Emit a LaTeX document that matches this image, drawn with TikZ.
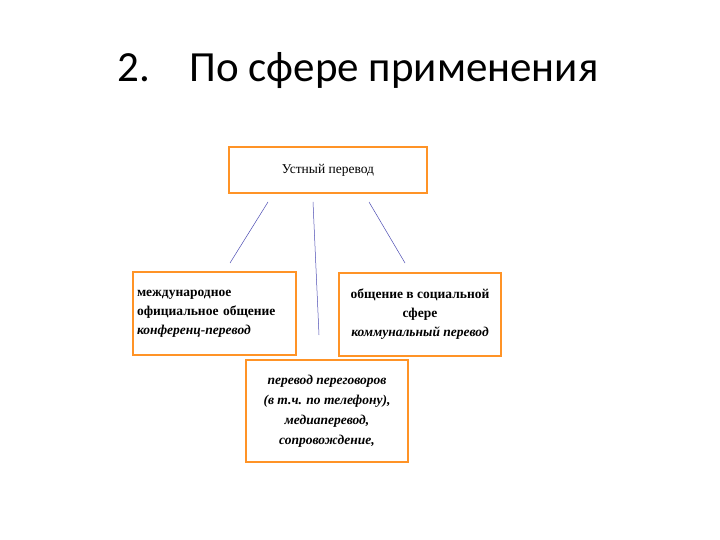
\documentclass[tikz,border=0pt]{standalone}
\usepackage{fontspec}
\setmainfont{Liberation Serif}
\newfontfamily\titlefont{Carlito}
\begin{document}
\begin{tikzpicture}[x=1pt,y=-1pt,
  box/.style={draw=orange!85!white,line width=2.2pt,fill=white,inner sep=0pt},
  conn/.style={draw=blue!40!gray,line width=0.5pt}]
\useasboundingbox (0,0) rectangle (720,540);
\node[anchor=base west,font=\titlefont\fontsize{43}{48}\selectfont] (t1) at (114,82) {2.};
\node[anchor=base west,font=\titlefont\fontsize{43}{48}\selectfont] (t2) at (186,82) {По сфере применения};
\node[box,minimum width=198pt,minimum height=46pt,font=\fontsize{13.5}{16}\selectfont] (top) at (328,170) {Устный перевод};
\node[box,minimum width=163pt,minimum height=83pt,align=left,text width=155pt,font=\fontsize{13.5}{19}\selectfont\bfseries] (left) at (214.5,313.5)
 {международное\\официальное общение\\\textit{конференц-перевод}};
\node[box,minimum width=162pt,minimum height=83pt,align=center,font=\fontsize{13.5}{19}\selectfont\bfseries] (right) at (420,314.5)
 {общение в социальной\\сфере\\\textit{коммунальный перевод}};
\node[box,minimum width=162pt,minimum height=102pt,align=center,font=\fontsize{13.5}{20}\selectfont\bfseries\itshape] (bot) at (327,411)
 {перевод переговоров\\(в т.ч. по телефону),\\медиаперевод,\\сопровождение,};
\coordinate (a1) at (268,202); \coordinate (a2) at (230,263);
\coordinate (b1) at (313,202); \coordinate (b2) at (319,335);
\coordinate (c1) at (369,202); \coordinate (c2) at (405,263);
\draw[conn] (a1) -- (a2);
\draw[conn] (b1) -- (b2);
\draw[conn] (c1) -- (c2);
\end{tikzpicture}
\end{document}
